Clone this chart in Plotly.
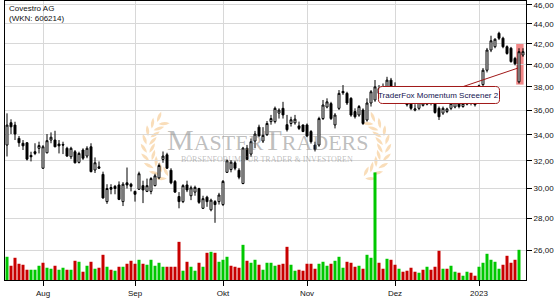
import math
import pandas as pd
import plotly.graph_objects as go

# ---------------- data ----------------
holidays = ["2022-12-26"]
dates = [d.strftime("%Y-%m-%d") for d in pd.bdate_range("2022-07-19", "2023-01-17")
         if d.strftime("%Y-%m-%d") not in holidays]

month_ticks = ["2022-08-01", "2022-09-01", "2022-10-03", "2022-11-01", "2022-12-01", "2023-01-02"]
month_labels = ["Aug", "Sep", "Okt", "Nov", "Dez", "2023"]

price_ticks = [26, 28, 30, 32, 34, 36, 38, 40, 42, 44, 46]
price_labels = ["26,00", "28,00", "30,00", "32,00", "34,00", "36,00", "38,00", "40,00", "42,00", "44,00", "46,00"]

open_ = [33.19, 34.96, 34.77, 33.71, 33.33, 33.37, 32.40, 32.68, 32.94, 31.45,
         32.60, 33.58, 33.58, 33.27, 33.24, 32.94, 32.30, 32.68, 31.88, 32.81,
         32.35, 33.06, 31.32, 31.55, 31.00, 29.10, 30.07, 30.15, 30.25, 29.10,
         30.40, 30.30, 29.80, 29.95, 30.20, 29.80, 29.80, 30.20, 30.75, 32.10,
         32.45, 31.30, 30.50, 29.45, 29.10, 30.25, 29.50, 29.75, 30.00, 28.65,
         29.40, 28.55, 29.10, 29.10, 28.90, 31.15, 31.35, 31.85, 31.30, 30.35,
         32.95, 32.50, 33.50, 34.60, 33.50, 34.00, 35.05, 35.05, 35.75, 36.15,
         34.80, 34.90, 34.95, 34.70, 34.78, 34.78, 34.25, 33.19, 33.19, 35.30,
         36.26, 36.55, 34.78, 36.15, 37.60, 37.43, 37.00, 35.88, 35.59, 36.01,
         35.18, 36.60, 36.86, 37.85, 37.50, 37.40, 38.60, 37.90, 37.50, 37.60,
         36.75, 36.55, 36.00, 36.15, 36.40, 36.50, 36.90, 36.55, 36.15, 35.75,
         35.88, 36.15, 36.26, 36.70, 36.30, 36.50, 36.70, 36.65, 36.90, 38.20,
         39.50, 41.40, 41.72, 43.04, 42.55, 41.72, 41.57, 40.60, 38.45, 40.92]
high = [35.73, 35.24, 35.04, 33.90, 33.58, 33.40, 32.68, 33.33, 33.45, 33.19,
        34.05, 34.18, 34.31, 33.58, 33.45, 33.06, 33.06, 32.81, 32.68, 32.94,
        33.10, 33.33, 32.25, 31.95, 31.20, 30.30, 30.30, 30.25, 30.50, 30.45,
        31.50, 30.40, 29.85, 31.20, 30.55, 30.70, 30.80, 31.05, 31.80, 32.70,
        32.60, 31.45, 30.60, 29.75, 30.30, 30.55, 30.20, 30.20, 30.05, 29.50,
        29.50, 29.30, 29.20, 29.70, 30.60, 32.10, 32.05, 32.00, 31.45, 33.05,
        33.20, 33.70, 34.30, 34.80, 34.60, 35.10, 35.60, 36.30, 36.15, 36.70,
        35.60, 35.45, 35.60, 35.05, 34.80, 34.90, 34.37, 33.45, 35.45, 36.86,
        37.00, 36.70, 35.75, 37.72, 38.16, 37.57, 37.10, 36.15, 36.43, 36.15,
        37.00, 37.72, 38.61, 38.16, 38.30, 38.90, 38.80, 38.40, 38.00, 37.70,
        36.90, 36.70, 36.50, 36.85, 37.10, 37.10, 37.00, 36.70, 36.30, 36.30,
        36.20, 36.70, 36.85, 36.80, 36.70, 36.85, 36.90, 36.85, 38.20, 39.70,
        41.60, 42.80, 42.55, 43.20, 42.70, 41.85, 41.70, 40.75, 41.57, 41.57]
low = [32.32, 34.05, 33.58, 33.06, 32.81, 32.02, 31.95, 32.42, 32.55, 31.40,
       32.55, 33.33, 33.02, 32.55, 32.50, 32.30, 32.12, 31.80, 31.80, 32.06,
       32.19, 31.15, 31.10, 31.40, 29.30, 28.95, 29.60, 29.60, 29.20, 28.80,
       30.00, 29.80, 29.10, 29.90, 29.00, 29.75, 29.60, 30.15, 30.65, 31.85,
       31.40, 30.30, 29.70, 28.65, 29.00, 29.75, 29.20, 29.50, 28.95, 28.60,
       28.75, 28.45, 27.70, 28.90, 28.80, 31.10, 31.15, 31.30, 30.65, 30.30,
       32.05, 32.30, 32.95, 33.85, 33.35, 33.90, 34.80, 34.90, 35.30, 35.30,
       34.25, 34.65, 34.80, 34.37, 34.20, 33.80, 33.30, 32.70, 33.06, 35.18,
       36.15, 35.18, 34.50, 36.01, 37.30, 36.43, 35.45, 35.30, 35.45, 34.78,
       35.05, 36.30, 36.70, 37.20, 37.20, 37.30, 37.60, 37.40, 37.20, 36.80,
       36.30, 36.00, 35.90, 36.00, 36.30, 36.40, 36.40, 35.70, 35.18, 35.60,
       35.75, 36.00, 36.15, 36.15, 36.20, 36.40, 36.40, 36.30, 36.80, 37.90,
       39.30, 41.20, 41.57, 42.37, 41.57, 40.95, 40.20, 39.95, 38.30, 40.75]
close = [34.77, 34.63, 34.05, 33.37, 33.13, 32.12, 32.30, 32.55, 33.15, 33.06,
         33.53, 33.80, 33.06, 33.13, 33.19, 32.35, 32.94, 31.85, 32.55, 32.19,
         32.94, 31.20, 31.85, 31.45, 29.35, 30.00, 29.95, 30.00, 29.25, 30.30,
         30.25, 30.15, 29.60, 31.05, 29.90, 30.20, 30.70, 30.90, 31.65, 32.35,
         31.45, 30.40, 29.75, 29.10, 30.20, 29.90, 30.05, 30.08, 29.05, 29.30,
         29.10, 29.20, 28.90, 29.55, 30.50, 32.00, 31.90, 31.45, 30.80, 32.95,
         32.10, 33.45, 34.05, 33.90, 33.95, 34.90, 35.30, 36.15, 36.00, 35.60,
         34.40, 35.20, 35.25, 34.50, 34.25, 33.90, 33.45, 32.85, 35.30, 36.43,
         36.70, 35.30, 35.59, 37.43, 37.48, 36.60, 35.59, 35.45, 36.30, 34.90,
         36.60, 37.57, 38.00, 37.43, 37.30, 38.60, 37.80, 37.60, 37.75, 36.90,
         36.45, 36.15, 36.10, 36.70, 36.60, 36.90, 36.60, 35.80, 35.45, 36.15,
         36.10, 36.55, 36.70, 36.30, 36.55, 36.70, 36.60, 36.45, 38.10, 39.50,
         41.40, 42.30, 42.45, 42.55, 41.72, 41.07, 40.30, 40.10, 41.24, 41.24]
# volume in thousand shares (last day without volume)
volume = [1165, 715, 1115, 815, 765, 515, 515, 515, 715, 865,
          615, 565, 715, 515, 615, 515, 515, 965, 915, 415,
          715, 915, 565, 615, 1265, 665, 515, 465, 665, 665,
          815, 965, 815, 1015, 815, 765, 1015, 715, 865, 665,
          665, 665, 665, 1915, 465, 915, 665, 465, 865, 665,
          1365, 1415, 1365, 915, 1015, 1165, 715, 665, 615, 1765,
          965, 865, 1015, 765, 515, 865, 865, 715, 765, 815,
          1665, 765, 465, 515, 465, 815, 815, 565, 815, 915,
          715, 815, 965, 1165, 615, 915, 865, 665, 715, 565,
          1265, 1115, 5400, 865, 565, 1065, 1015, 765, 565, 415,
          465, 615, 415, 365, 515, 665, 515, 665, 1465, 565,
          565, 715, 415, 365, 215, 415, 365, 215, 665, 865,
          1315, 1015, 915, 565, 765, 1215, 865, 1015, 1515, None]

vol_colors = ["#00c800" if (i == 0 or close[i] >= close[i - 1]) else "#c80000"
              for i in range(len(close))]

signal_label = "TraderFox Momentum Screener 2"
signal_index = 128

# ---------------- figure ----------------
W, H = 555, 300
ML, MR, MT, MB = 5, 29, 1, 20
PW, PH = W - ML - MR, H - MT - MB

def px(xp):  # pixel -> paper x (decoration only)
    return (xp - ML) / PW

def py(yp):  # pixel -> paper y (decoration only)
    return (H - MB - yp) / PH

FONT = "Liberation Sans, Arial, sans-serif"

fig = go.Figure()
fig.add_trace(go.Bar(x=dates, y=volume, marker=dict(color=vol_colors, line=dict(width=0)),
                     yaxis="y2", hoverinfo="skip", showlegend=False))
fig.add_trace(go.Candlestick(
    x=dates, open=open_, high=high, low=low, close=close,
    increasing=dict(line=dict(color="black", width=1), fillcolor="white"),
    decreasing=dict(line=dict(color="black", width=1), fillcolor="black"),
    whiskerwidth=0, showlegend=False, hoverinfo="skip"))

grid = "#d8d8d8"
fig.update_layout(
    width=W, height=H, margin=dict(l=ML, r=MR, t=MT, b=MB),
    paper_bgcolor="white", plot_bgcolor="white",
    font=dict(family=FONT, size=8, color="#111111"),
    bargap=0.25, showlegend=False,
    xaxis=dict(type="category", range=[-0.5, 129.75], rangeslider=dict(visible=False),
               tickmode="array", tickvals=month_ticks, ticktext=month_labels,
               showgrid=True, gridcolor=grid, gridwidth=1,
               showline=True, linecolor="black", linewidth=1, mirror=True,
               ticks="outside", ticklen=5, tickcolor="black", tickwidth=1,
               tickfont=dict(size=8, color="#111111"), zeroline=False),
    yaxis=dict(type="log", range=[math.log10(24.25), math.log10(46.40)], side="right",
               tickmode="array", tickvals=price_ticks, ticktext=price_labels,
               showgrid=True, gridcolor=grid, gridwidth=1,
               showline=True, linecolor="black", linewidth=1, mirror=True,
               ticks="outside", ticklen=5, tickcolor="black", tickwidth=1,
               tickfont=dict(size=8, color="#111111"), zeroline=False),
    yaxis2=dict(overlaying="y", range=[0, 14000], visible=False, showgrid=False),
)

# ---- watermark: laurel leaves (decoration) ----
def leaf_path(cx, cy, ang_deg, L=11, Wd=3.2):
    a = math.radians(ang_deg)
    dx, dy = math.cos(a) * L / 2, math.sin(a) * L / 2
    nx, ny = -math.sin(a) * Wd, math.cos(a) * Wd
    pts = [(cx - dx, cy - dy), (cx + nx, cy + ny), (cx + dx, cy + dy), (cx - nx, cy - ny)]
    P = [(px(x), py(y)) for x, y in pts]
    return (f"M {P[0][0]:.5f} {P[0][1]:.5f} Q {P[1][0]:.5f} {P[1][1]:.5f} {P[2][0]:.5f} {P[2][1]:.5f} "
            f"Q {P[3][0]:.5f} {P[3][1]:.5f} {P[0][0]:.5f} {P[0][1]:.5f} Z")

leaf_color = "rgba(242,180,100,0.45)"
mid = 266
cxl, cyl, rad = 181, 147, 33
for th in range(122, 246, 14):
    t = math.radians(th)
    sx, sy = cxl + rad * math.cos(t), cyl + rad * math.sin(t)
    tang = th + 90
    for side, tilt in ((1, -32), (-1, 32)):
        ox = sx + side * 4.2 * math.cos(t)
        oy = sy + side * 4.2 * math.sin(t)
        for mirror in (False, True):
            x0 = 2 * mid - ox if mirror else ox
            ang = 180 - (tang + tilt) if mirror else tang + tilt
            fig.add_shape(type="path", xref="paper", yref="paper", path=leaf_path(x0, oy, ang),
                          fillcolor=leaf_color, line=dict(width=0), layer="below")

fig.add_annotation(xref="paper", yref="paper", x=px(268), y=py(139),
                   text=('<span style="font-size:30px">M</span>ASTER'
                         '<span style="font-size:30px">T</span>RADERS'),
                   showarrow=False, font=dict(family="Liberation Serif, serif", size=22,
                                              color="rgba(120,120,120,0.48)"),
                   xanchor="center", yanchor="middle")
fig.add_annotation(xref="paper", yref="paper", x=px(267), y=py(160),
                   text="BÖRSENFORUM FÜR TRADER &amp; INVESTOREN",
                   showarrow=False, font=dict(family="Liberation Serif, serif", size=8,
                                              color="rgba(120,120,120,0.48)"),
                   xanchor="center", yanchor="middle")

# title
fig.add_annotation(xref="paper", yref="paper", x=px(7), y=py(2),
                   text="Covestro AG<br>(WKN: 606214)", showarrow=False, align="left",
                   xanchor="left", yanchor="top", font=dict(size=8, color="#111111"))

# highlight of the signal candle
fig.add_shape(type="rect", xref="x", yref="y", x0=signal_index - 0.7, x1=signal_index + 1.15,
              y0=38.2, y1=42.0, line=dict(width=0), fillcolor="rgba(235,70,70,0.65)", layer="below")

# rounded label box (decoration)
def rounded_box(x0, y0, x1, y1, r):
    pts = [f"M {px(x0 + r):.5f} {py(y0):.5f}",
           f"L {px(x1 - r):.5f} {py(y0):.5f}",
           f"Q {px(x1):.5f} {py(y0):.5f} {px(x1):.5f} {py(y0 + r):.5f}",
           f"L {px(x1):.5f} {py(y1 - r):.5f}",
           f"Q {px(x1):.5f} {py(y1):.5f} {px(x1 - r):.5f} {py(y1):.5f}",
           f"L {px(x0 + r):.5f} {py(y1):.5f}",
           f"Q {px(x0):.5f} {py(y1):.5f} {px(x0):.5f} {py(y1 - r):.5f}",
           f"L {px(x0):.5f} {py(y0 + r):.5f}",
           f"Q {px(x0):.5f} {py(y0):.5f} {px(x0 + r):.5f} {py(y0):.5f} Z"]
    return " ".join(pts)

fig.add_shape(type="path", xref="paper", yref="paper", path=rounded_box(378.5, 86.5, 499.5, 103.5, 4),
              fillcolor="white", line=dict(color="#a01818", width=1), layer="above")

# signal label (annotation positions on log axes are given as log10)
fig.add_annotation(x=signal_index - 0.25, y=math.log10(39.7), xref="x", yref="y", ax=-80, ay=27,
                   text=signal_label, showarrow=True, arrowhead=0,
                   arrowcolor="#a01818", arrowwidth=1, borderwidth=0,
                   borderpad=4, bgcolor="rgba(0,0,0,0)", font=dict(size=8, color="#141450"))

fig.write_html("out.html")
